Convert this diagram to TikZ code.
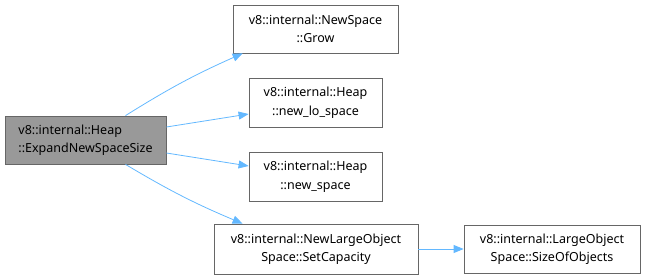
\documentclass[tikz,border=0pt]{standalone}
\usepackage{fontspec}
\setmainfont{Noto Sans}
\usetikzlibrary{arrows.meta}
\definecolor{edgeblue}{HTML}{63B8FF}
\definecolor{boxline}{HTML}{666666}
\definecolor{boxfill}{HTML}{999999}
\begin{document}
\begin{tikzpicture}[x=1bp,y=-1bp,
  fn/.style={draw=boxline,line width=0.8bp,fill=white,inner sep=0pt,align=center,
    font=\fontsize{12.5bp}{18.5bp}\selectfont,text=black},
  cur/.style={fn,fill=boxfill,align=left},
  edge/.style={draw=edgeblue,line width=0.8bp,-{Triangle[length=10bp,width=8bp]}}]
\useasboundingbox (0,0) rectangle (646,279);
% caller
\node[cur,minimum width=161bp,minimum height=48bp] (main) at (85.5,140)
  {v8::internal::Heap\\::ExpandNewSpaceSize};
% callees
\node[fn,minimum width=165bp,minimum height=48bp] (grow) at (315.5,29)
  {v8::internal::NewSpace\\::Grow};
\node[fn,minimum width=133bp,minimum height=49bp] (lo) at (315.5,102.5)
  {v8::internal::Heap\\::new\_lo\_space};
\node[fn,minimum width=133bp,minimum height=49bp] (ns) at (315.5,176.5)
  {v8::internal::Heap\\::new\_space};
\node[fn,minimum width=204bp,minimum height=50bp] (cap) at (316,249)
  {v8::internal::NewLargeObject\\Space::SetCapacity};
\node[fn,minimum width=176bp,minimum height=48bp] (size) at (552,249)
  {v8::internal::LargeObject\\Space::SizeOfObjects};
% calls
\draw[edge] ([xshift=40bp]main.north) to[bend left=4] ([xshift=10bp]grow.south west);
\draw[edge] ([yshift=13bp]main.east) -- ([yshift=-11.5bp]lo.west);
\draw[edge] ([yshift=-13bp]main.east) -- ([yshift=10.5bp]ns.west);
\draw[edge] ([xshift=40bp]main.south) to[bend right=4] ([xshift=29bp]cap.north west);
\draw[edge] (cap.east) -- (size.west);
\end{tikzpicture}
\end{document}
